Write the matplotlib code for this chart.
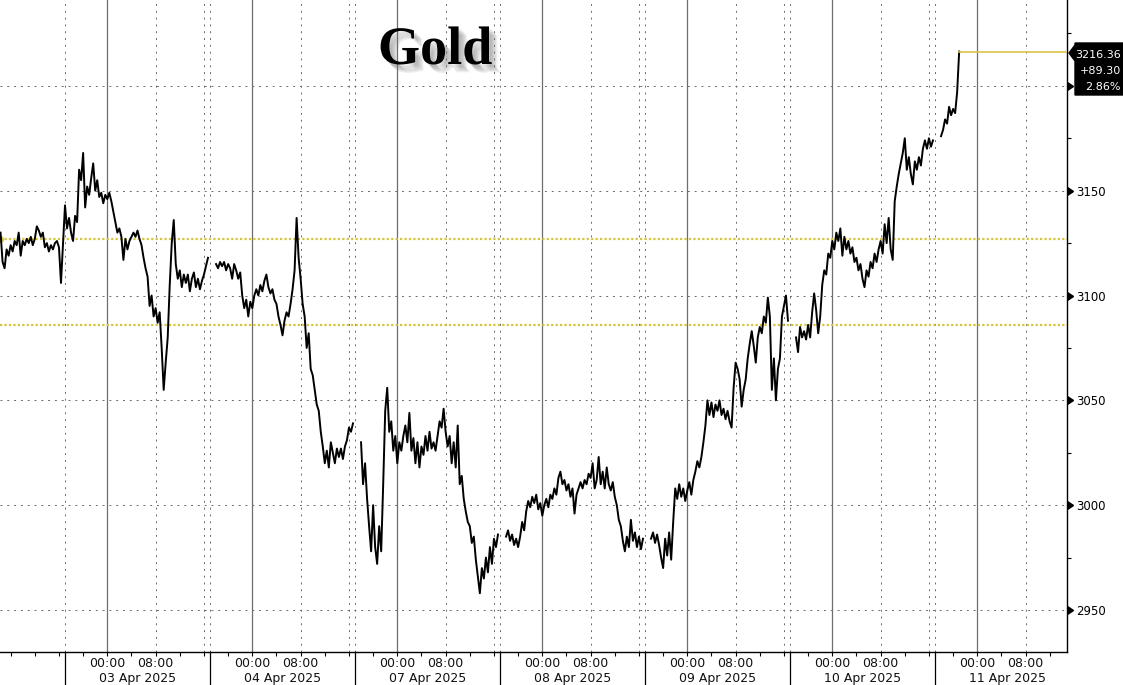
import numpy as np
import matplotlib
matplotlib.use("Agg")
import matplotlib.pyplot as plt
import matplotlib.patheffects as pe
from matplotlib.patches import Polygon
from matplotlib.transforms import blended_transform_factory

nan = np.nan

# ---------------- data: gold price, 20-minute samples (ET trading sessions) ----------------
# 02 Apr session: visible part only (06:20 .. 16:40)
s02_apr = [3130, 3116, 3113, 3122, 3119, 3124, 3121, 3126, 3124, 3130, 3119, 3126, 3124, 3127,
           3125, 3128, 3124, 3127, 3133, 3131, 3128, 3130, 3123, 3125, 3121, 3124, 3122, 3125,
           3126, 3123, 3106]
# each session starts 17:00 ET of previous day; 17:00-18:00 is the daily break
s03_apr = [3143, 3132, 3137, 3130, 3126, 3138, 3135, 3160, 3155, 3168, 3142, 3152, 3148, 3156,
           3163, 3150, 3155, 3147, 3149, 3144, 3148, 3146, 3149, 3145, 3140, 3135, 3130, 3132,
           3128, 3117, 3127, 3122, 3126, 3128, 3130, 3128, 3131, 3127, 3124, 3118, 3113, 3109,
           3095, 3100, 3090, 3094, 3087, 3092, 3075, 3055, 3068, 3080, 3105, 3125, 3136, 3115,
           3108, 3112, 3104, 3110, 3106, 3110, 3102, 3108, 3111, 3104, 3108, 3103, 3107, 3110,
           3114, 3118]
s04_apr = [nan, nan, nan,
           3115, 3113, 3116, 3114, 3116, 3112, 3115, 3113, 3108, 3115, 3112, 3108, 3111, 3100,
           3094, 3098, 3090, 3097, 3094, 3100, 3103, 3100, 3105, 3102, 3107, 3110, 3104, 3101,
           3103, 3098, 3096, 3090, 3086, 3081, 3088, 3092, 3090, 3096, 3103, 3112, 3137, 3118,
           3108, 3096, 3090, 3075, 3082, 3065, 3062, 3055, 3048, 3045, 3035, 3028, 3020, 3026,
           3018, 3030, 3025, 3020, 3027, 3023, 3027, 3022, 3028, 3031, 3037, 3035, 3039]
s07_apr = [nan, nan, nan,
           3030, 3010, 3020, 3003, 2990, 2978, 3000, 2980, 2972, 2990, 2978, 3010, 3045, 3056,
           3035, 3040, 3026, 3033, 3020, 3030, 3026, 3033, 3038, 3030, 3044, 3026, 3032, 3020,
           3030, 3018, 3028, 3024, 3033, 3026, 3035, 3027, 3030, 3026, 3033, 3040, 3037, 3046,
           3035, 3028, 3033, 3020, 3030, 3018, 3038, 3010, 3014, 3003, 2997, 2992, 2990, 2982,
           2985, 2974, 2966, 2958, 2970, 2965, 2975, 2968, 2980, 2972, 2984, 2980, 2986]
s08_apr = [nan, nan, nan,
           2985, 2988, 2983, 2986, 2981, 2984, 2980, 2985, 2992, 2988, 2997, 3002, 2999, 3004,
           3001, 3005, 2998, 3001, 2995, 3000, 3003, 2999, 3005, 3003, 3008, 3005, 3013, 3016,
           3010, 3012, 3007, 3010, 3004, 3008, 2996, 3005, 3008, 3011, 3008, 3012, 3010, 3015,
           3013, 3020, 3008, 3012, 3023, 3010, 3016, 3008, 3018, 3010, 3007, 3011, 3004, 3000,
           2993, 2990, 2983, 2978, 2985, 2980, 2993, 2983, 2987, 2980, 2985, 2979, 2984]
s09_apr = [nan, nan, nan,
           2984, 2987, 2982, 2986, 2981, 2975, 2970, 2984, 2976, 2987, 2974, 2992, 3008, 3003,
           3010, 3004, 3008, 3002, 3007, 3011, 3005, 3012, 3016, 3021, 3018, 3023, 3030, 3038,
           3050, 3043, 3049, 3042, 3048, 3045, 3050, 3043, 3046, 3041, 3045, 3040, 3037, 3056,
           3068, 3065, 3060, 3047, 3055, 3060, 3070, 3077, 3083, 3076, 3068, 3080, 3085, 3082,
           3090, 3087, 3099, 3090, 3055, 3070, 3050, 3065, 3070, 3090, 3095, 3100, 3088]
s10_apr = [nan, nan, nan,
           3080, 3073, 3085, 3080, 3083, 3079, 3086, 3080, 3092, 3101, 3093, 3082, 3090, 3105,
           3112, 3110, 3120, 3118, 3126, 3122, 3130, 3126, 3132, 3119, 3128, 3122, 3126, 3120,
           3123, 3116, 3118, 3112, 3115, 3108, 3104, 3112, 3109, 3116, 3113, 3120, 3116, 3122,
           3126, 3120, 3134, 3125, 3137, 3122, 3117, 3145, 3152, 3158, 3163, 3168, 3175, 3160,
           3166, 3158, 3153, 3164, 3160, 3166, 3162, 3170, 3174, 3170, 3175, 3171, 3174]
s11_apr = [nan, nan, nan,
           3176, 3179, 3184, 3182, 3190, 3186, 3189, 3187, 3197, 3216.36]

session_labels = ["03 Apr 2025", "04 Apr 2025", "07 Apr 2025", "08 Apr 2025",
                  "09 Apr 2025", "10 Apr 2025", "11 Apr 2025"]
hour_labels = ["00:00", "08:00"]
prev_close = 3127.06
ref_level = 3086.0
last_price = 3216.36
last_change = "+89.30"
last_pct = "2.86%"
y_ticks = [2950, 3000, 3050, 3100, 3150, 3200]
y_labels = ["2950", "3000", "3050", "3100", "3150", ""]   # 3200 is hidden by the price box

# ---------------- build the series on a trading-time axis (hours, weekend removed) ----------------
sessions = [s03_apr, s04_apr, s07_apr, s08_apr, s09_apr, s10_apr, s11_apr]
ts = [-10.0 - 2.0 / 3.0 + np.arange(len(s02_apr)) / 3.0]
ps = [np.array(s02_apr, dtype=float)]
for k, s in enumerate(sessions):
    ts.append(24.0 * k + np.arange(len(s)) / 3.0)
    ps.append(np.array(s, dtype=float))
t = np.concatenate(ts)
p = np.concatenate(ps)
valid = ~np.isnan(p)
t_last = t[valid][-1]

W, H = 1123, 685
fig = plt.figure(figsize=(W / 100, H / 100), dpi=100)
fig.patch.set_facecolor("white")
ax = fig.add_axes([0, 33 / H, 1066.7 / W, 652 / H])
xmin, xmax = -10.76, 165.80
ymin, ymax = 2929.97, 3240.95

grid_kw = dict(color="#6a6a6a", lw=0.7, linestyle=(0, (2, 5)), zorder=1)
for yv in y_ticks:
    ax.axhline(yv, **grid_kw)
for k in range(len(sessions)):
    ax.axvline(24 * k, **grid_kw)            # session start 17:00
    ax.axvline(24 * k + 15, **grid_kw)       # 08:00
    if 24 * k + 23 < xmax:
        ax.axvline(24 * k + 23, **grid_kw)   # 16:00
    ax.axvline(24 * k + 7, color="#6e6e6e", lw=0.9, zorder=1)  # 00:00

# reference levels
ax.axhline(prev_close, color="#d6c43c", lw=1.6, linestyle=(0, (1, 1)), zorder=2)
ax.axhline(ref_level, color="#d6c43c", lw=1.6, linestyle=(0, (1, 1)), zorder=2)
ax.plot([xmin], [prev_close], "o", color="#d6c43c", ms=4, clip_on=False, zorder=3)

# price line
ax.plot(t, p, color="black", lw=1.4, zorder=4)
ax.plot([t_last, xmax], [last_price, last_price], color="#dcc04a", lw=1.2, zorder=4)

# spines
for side in ["top", "left"]:
    ax.spines[side].set_visible(False)
ax.spines["right"].set_linewidth(1.0)
ax.spines["bottom"].set_linewidth(1.0)

# y axis on right
ax.yaxis.tick_right()
ax.set_yticks(y_ticks)
ax.set_yticklabels(y_labels, fontsize=8.5, family="DejaVu Sans")
ax.set_yticks([v for v in np.arange(2925, 3250, 25) if ymin < v < ymax], minor=True)
ax.tick_params(axis="y", which="major", length=0, pad=7)
ax.tick_params(axis="y", which="minor", length=3, width=0.8, direction="out", right=True, left=False)
btr = blended_transform_factory(ax.transAxes, ax.transData)
ax.plot([1.0] * len(y_ticks), y_ticks, linestyle="none", marker=9, ms=6, color="black",
        transform=btr, clip_on=False, zorder=5)

# x axis
major_x = []
for k in range(len(sessions)):
    major_x += [24 * k + 7, 24 * k + 15]
minor_x = [h for h in np.arange(-13, xmax, 4) if xmin < h < xmax]
ax.set_xticks(major_x)
ax.set_xticklabels([""] * len(major_x))
ax.set_xticks(minor_x, minor=True)
ax.tick_params(axis="x", which="both", length=3, width=0.8, direction="out")
bt = blended_transform_factory(ax.transData, ax.transAxes)
for k, lab in enumerate(session_labels):
    for hh, hl in zip([7, 15], hour_labels):
        ax.text(24 * k + hh, -15.3 / 652, hl, transform=bt, ha="center", va="baseline",
                fontsize=9, family="DejaVu Sans", color="#111111")
    ax.text(24 * k + 12, -30 / 652, lab, transform=bt, ha="center", va="baseline",
            fontsize=9, family="DejaVu Sans", color="#111111")
    ax.plot([24 * k, 24 * k], [0, -34 / 652], transform=bt, color="black", lw=0.9, clip_on=False)

ax.set_xlim(xmin, xmax)
ax.set_ylim(ymin, ymax)

# title with shadow
shadow = [pe.SimplePatchShadow(offset=(o, -o), shadow_rgbFace="#777777", alpha=0.13)
          for o in (2, 3, 4, 5, 6)]
fig.text(435 / W, 1 - 64 / H, "Gold", ha="center", va="baseline", fontsize=39,
         family="Liberation Serif", weight="bold", color="black",
         path_effects=shadow + [pe.Normal()])

# last-price label box
def fp(x, y):
    return (x / W, 1 - y / H)

box = Polygon([fp(1075, 43), fp(1123, 43), fp(1123, 95), fp(1075, 95), fp(1075, 61),
               fp(1069, 53), fp(1075, 45)], closed=True, transform=fig.transFigure,
              facecolor="black", edgecolor="black", zorder=10)
fig.add_artist(box)
for txt, yb in [(f"{last_price:.2f}", 58.5), (last_change, 74.5), (last_pct, 89.5)]:
    fig.text(1121 / W, 1 - yb / H, txt, ha="right", va="baseline", fontsize=8,
             family="DejaVu Sans", color="white", zorder=11)

fig.savefig("out.png", dpi=100, facecolor="white")
